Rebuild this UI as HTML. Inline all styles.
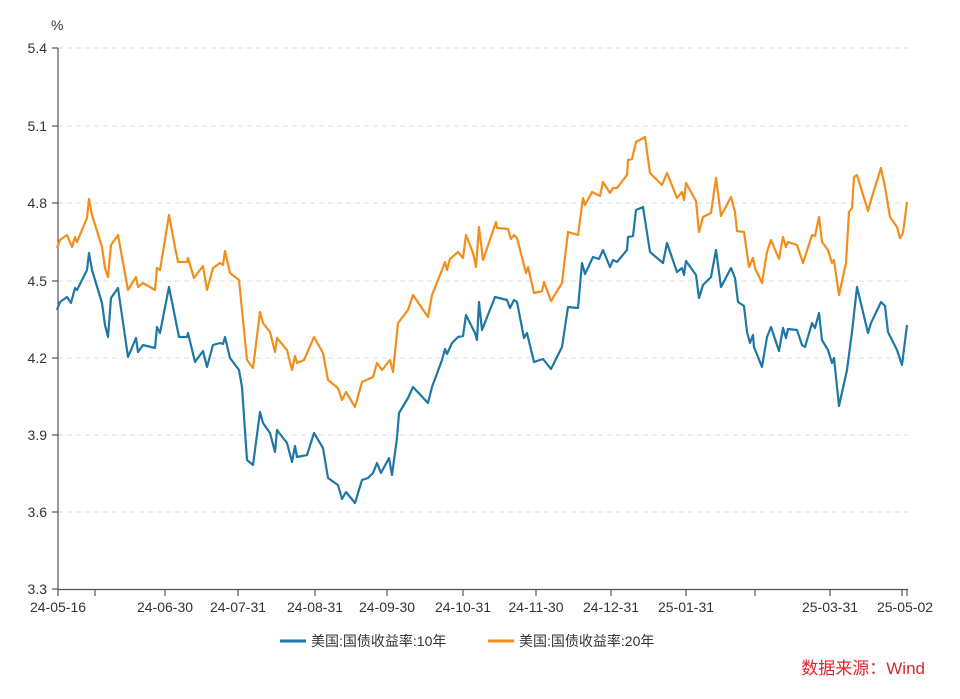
<!DOCTYPE html>
<html><head><meta charset="utf-8"><style>
body{margin:0;background:#fff;}
svg text{font-family:"Liberation Sans","Noto Sans CJK SC",sans-serif;}
</style></head><body>
<svg width="960" height="694" viewBox="0 0 960 694" xmlns="http://www.w3.org/2000/svg">
<g stroke="#dcdcdc" stroke-dasharray="5,4" stroke-width="1">
<line x1="58" x2="908" y1="48" y2="48"/><line x1="58" x2="908" y1="126" y2="126"/>
<line x1="58" x2="908" y1="203" y2="203"/><line x1="58" x2="908" y1="281" y2="281"/>
<line x1="58" x2="908" y1="358" y2="358"/><line x1="58" x2="908" y1="435" y2="435"/>
<line x1="58" x2="908" y1="512" y2="512"/>
</g>
<g stroke="#555" stroke-width="1.2">
<line x1="58" y1="48" x2="58" y2="590"/><line x1="58" y1="589.5" x2="908" y2="589.5"/>
<line x1="52" x2="58" y1="48" y2="48"/><line x1="52" x2="58" y1="126" y2="126"/><line x1="52" x2="58" y1="203" y2="203"/><line x1="52" x2="58" y1="281" y2="281"/><line x1="52" x2="58" y1="358" y2="358"/><line x1="52" x2="58" y1="435" y2="435"/><line x1="52" x2="58" y1="512" y2="512"/><line x1="52" x2="58" y1="589" y2="589"/>
<line x1="58" x2="58" y1="589" y2="596"/><line x1="95" x2="95" y1="589" y2="596"/><line x1="165" x2="165" y1="589" y2="596"/><line x1="238" x2="238" y1="589" y2="596"/><line x1="315" x2="315" y1="589" y2="596"/><line x1="387" x2="387" y1="589" y2="596"/><line x1="463" x2="463" y1="589" y2="596"/><line x1="536" x2="536" y1="589" y2="596"/><line x1="611" x2="611" y1="589" y2="596"/><line x1="686" x2="686" y1="589" y2="596"/><line x1="755" x2="755" y1="589" y2="596"/><line x1="830" x2="830" y1="589" y2="596"/><line x1="902" x2="902" y1="589" y2="596"/><line x1="907" x2="907" y1="589" y2="596"/>
</g>
<g font-size="14" fill="#333" text-anchor="end">
<text x="47" y="53">5.4</text><text x="47" y="131">5.1</text><text x="47" y="208">4.8</text><text x="47" y="286">4.5</text><text x="47" y="363">4.2</text><text x="47" y="440">3.9</text><text x="47" y="517">3.6</text><text x="47" y="594">3.3</text>
</g>
<text x="51" y="30" font-size="14" fill="#333">%</text>
<g font-size="14" fill="#333" text-anchor="middle">
<text x="58" y="612">24-05-16</text><text x="165" y="612">24-06-30</text><text x="238" y="612">24-07-31</text><text x="315" y="612">24-08-31</text><text x="387" y="612">24-09-30</text><text x="463" y="612">24-10-31</text><text x="536" y="612">24-11-30</text><text x="611" y="612">24-12-31</text><text x="686" y="612">25-01-31</text><text x="830" y="612">25-03-31</text><text x="905" y="612">25-05-02</text>
</g>
<polyline fill="none" stroke="#f28e1c" stroke-width="2.2" stroke-linejoin="round" points="57,248 60,240 67,235 72,247 75,237 77,242 87,218 89,199 92,215 102,247 105,268 108,277 111,245 118,235 128,290 136,277 138,287 143,283 155,290 157,268 160,270 169,215 175,247 178,262 187,262 188,258 194,278 203,266 207,290 213,268 220,263 223,265 225,251 230,273 239,280 247,360 253,368 260,312 263,323 270,332 275,352 277,338 287,350 292,370 295,356 297,363 304,360 314,337 323,353 328,380 338,388 342,400 346,392 355,407 362,382 373,377 377,363 382,370 390,360 393,372 398,323 408,310 413,295 428,317 432,295 442,270 445,262 447,270 450,259 458,252 463,258 466,235 473,253 476,267 479,227 483,260 496,222 497,228 508,229 511,239 514,235 517,238 526,273 528,267 534,293 542,291 544,282 551,301 562,283 568,232 578,235 583,198 585,205 592,192 600,196 603,182 610,193 613,188 617,188 627,175 628,160 632,159 636,142 645,137 650,173 662,185 667,173 677,198 682,192 684,200 686,183 696,201 699,232 703,217 711,213 716,178 721,216 731,197 735,212 737,231 744,232 749,267 753,258 755,268 762,283 767,252 771,240 779,259 783,237 786,247 788,242 797,245 803,263 812,235 815,236 819,217 822,242 828,250 832,263 834,260 839,295 846,263 849,212 852,208 854,177 857,175 868,211 871,200 881,168 885,187 890,217 897,227 900,238 903,233 907,202"/>
<polyline fill="none" stroke="#1f77a6" stroke-width="2.2" stroke-linejoin="round" points="57,310 60,302 67,297 71,303 75,288 77,290 87,270 89,253 92,270 102,303 105,325 108,337 111,298 118,288 128,357 136,338 138,352 143,345 155,348 157,327 160,333 169,287 175,317 179,337 187,337 188,333 195,362 203,351 207,367 213,345 220,343 223,344 225,337 230,358 239,370 242,387 247,460 253,465 260,412 263,423 270,433 275,452 277,430 287,443 292,462 295,446 297,457 307,455 314,433 323,448 328,478 338,485 342,499 346,492 355,503 362,480 368,478 373,473 377,463 381,473 389,458 392,475 397,438 399,413 408,398 413,387 428,403 432,387 442,360 445,349 447,354 452,343 458,337 463,336 466,315 475,333 477,340 479,302 482,330 495,297 507,300 510,308 514,300 517,302 524,338 527,333 534,362 543,359 551,369 562,347 568,307 578,308 582,263 585,274 593,257 599,259 603,250 610,267 613,260 617,262 627,250 628,237 633,236 636,210 643,207 650,252 663,263 667,243 677,272 682,268 684,275 686,261 696,275 699,298 703,285 711,277 716,250 721,287 731,268 735,278 738,302 744,306 747,332 750,343 753,335 754,347 762,367 767,337 771,327 779,351 783,328 786,338 788,329 797,330 802,345 805,347 812,323 815,328 819,313 822,340 828,350 832,363 834,358 839,406 847,370 852,332 857,287 868,333 871,323 881,302 885,306 888,332 897,350 902,365 907,325"/>
<line x1="280" x2="306" y1="641" y2="641" stroke="#1f77a6" stroke-width="3"/>
<text x="311" y="646" font-size="14" fill="#333">美国:国债收益率:10年</text>
<line x1="488" x2="514" y1="641" y2="641" stroke="#f28e1c" stroke-width="3"/>
<text x="519" y="646" font-size="14" fill="#333">美国:国债收益率:20年</text>
<text x="925" y="674" font-size="17" fill="#e0242b" text-anchor="end">数据来源：Wind</text>
</svg>
</body></html>
